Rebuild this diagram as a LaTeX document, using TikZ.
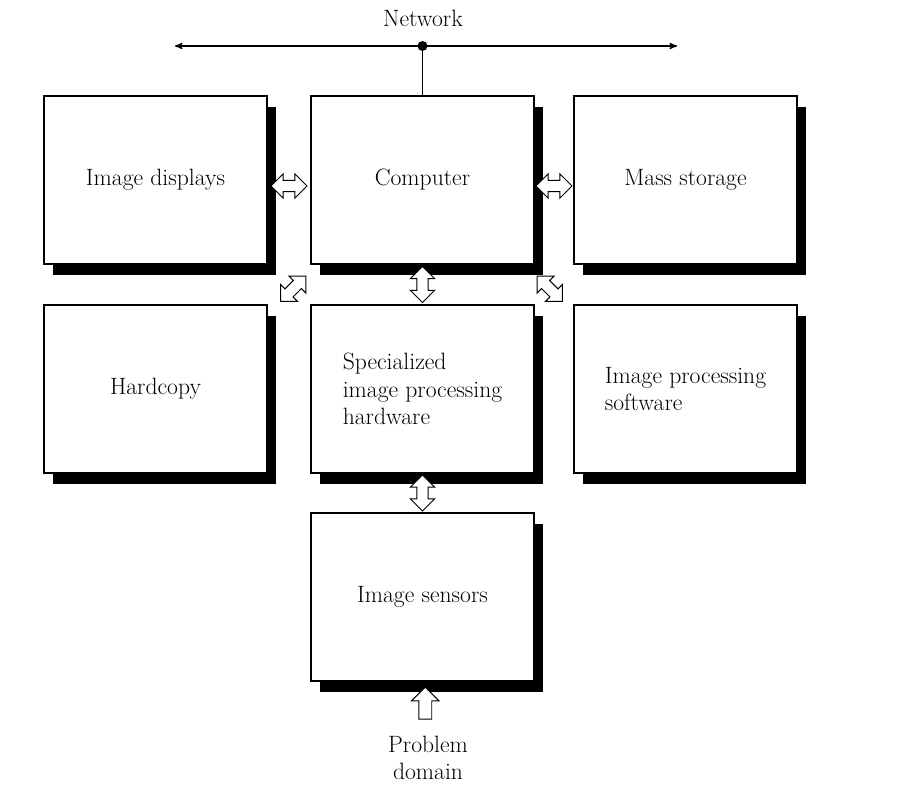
\documentclass[tikz,border=0pt]{standalone}
\usepackage{fontspec}
\usetikzlibrary{calc}
\usetikzlibrary{arrows}
\usetikzlibrary{shapes.arrows,shadows}

\tikzset{
 unit/.style={draw, fill=white, line width=.8pt, minimum width=5.575cm, minimum height=4.2cm,
   font=\fontsize{16.8}{19.5}\selectfont, align=left,
   drop shadow={shadow xshift=.23cm, shadow yshift=-.28cm, fill=black, opacity=1}},
 dblarrow/.style={double arrow, draw, fill=white, line width=.7pt, inner xsep=0pt, inner ysep=.13cm,
   minimum height=.9cm, minimum width=.58cm, double arrow head extend=.16cm},
 uparrow/.style={single arrow, draw, fill=white, line width=.7pt, inner xsep=0pt, inner ysep=.15cm,
   minimum height=.8cm, minimum width=.66cm, single arrow head extend=.18cm, rotate=90},
 lbl/.style={font=\fontsize{16.8}{19.5}\selectfont, align=center}
}

\begin{document}
\begin{tikzpicture}[x=.025cm, y=-.025cm]
\useasboundingbox (0,0) rectangle (903,785);
% network bus
\node[lbl] (net) at (423,18) {Network};
\coordinate (netL) at (175,46);
\coordinate (netR) at (677,46);
\draw[black, line width=.9pt, <->, >=stealth'] (netL) -- (netR);
% the units
\node[unit] (disp) at (155.5,180) {Image displays};
\node[unit] (comp) at (422.5,180) {Computer};
\node[unit] (mass) at (685.5,180) {Mass storage};
\node[unit] (hard) at (155.5,389) {Hardcopy};
\node[unit] (siph) at (422.5,389) {Specialized\\image processing\\hardware};
\node[unit] (ipsw) at (685.5,389) {Image processing\\software};
\node[unit] (sens) at (422.5,597) {Image sensors};
\node[lbl] (prob) at (428,758) {Problem\\domain};
% hub on the bus
\fill (comp.north |- netL) circle (5);
\draw[line width=.9pt] (comp.north |- netL) -- (comp.north);
% block arrows between the units
\node[dblarrow, yshift=-.15cm] (a1) at ($(disp.east)!.5!(comp.west)$) {};
\node[dblarrow, yshift=-.15cm] (a2) at ($(comp.east)!.5!(mass.west)$) {};
\node[dblarrow, rotate=90] (a3) at ($(comp.south)!.5!(siph.north)$) {};
\node[dblarrow, rotate=90] (a4) at ($(siph.south)!.5!(sens.north)$) {};
\node[dblarrow, rotate=45, yshift=-.15cm] (a5) at ($(hard.north east)!.5!(comp.south west)$) {};
\node[dblarrow, rotate=-45, yshift=-.15cm] (a6) at ($(comp.south east)!.5!(ipsw.north west)$) {};
\node[uparrow] (a7) at ($(sens.south)!.5!(prob.north)$) {};
\end{tikzpicture}
\end{document}
